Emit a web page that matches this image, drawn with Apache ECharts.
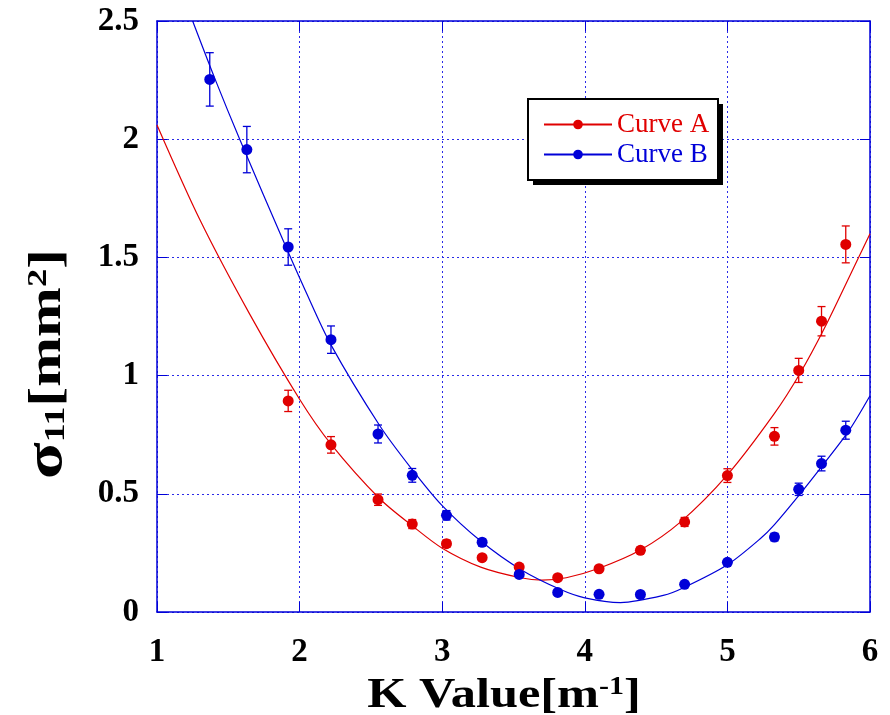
<!DOCTYPE html>
<html>
<head>
<meta charset="utf-8">
<script src="https://cdn.jsdelivr.net/npm/echarts@6/dist/echarts.min.js"></script>
<style>
html, body { margin: 0; padding: 0; background: #fff; }
#chart { width: 890px; height: 715px; }
</style>
</head>
<body>
<div id="chart"></div>
<script>
// axis ticks
const kTicks = [1, 2, 3, 4, 5, 6];
const sigmaTicks = [0, 0.5, 1, 1.5, 2, 2.5];

// Curve A (red) measured points + error
const kA = [1.92, 2.22, 2.55, 2.79, 3.03, 3.28, 3.54, 3.81, 4.10, 4.39, 4.70, 5.00, 5.33, 5.50, 5.66, 5.83];
const sigmaA = [0.893, 0.707, 0.475, 0.372, 0.289, 0.230, 0.190, 0.145, 0.183, 0.261, 0.381, 0.577, 0.743, 1.022, 1.230, 1.555];
const errA = [0.045, 0.035, 0.024, 0.019, 0.015, 0.012, 0.010, 0.007, 0.009, 0.013, 0.019, 0.029, 0.037, 0.051, 0.062, 0.078];

// Curve B (blue) measured points + error
const kB = [1.37, 1.63, 1.92, 2.22, 2.55, 2.79, 3.03, 3.28, 3.54, 3.81, 4.10, 4.39, 4.70, 5.00, 5.33, 5.50, 5.66, 5.83];
const sigmaB = [2.253, 1.956, 1.544, 1.152, 0.753, 0.578, 0.409, 0.295, 0.159, 0.083, 0.075, 0.074, 0.117, 0.210, 0.317, 0.519, 0.628, 0.769];
const errB = [0.113, 0.098, 0.077, 0.058, 0.038, 0.029, 0.020, 0.015, 0.008, 0.004, 0.004, 0.004, 0.006, 0.010, 0.016, 0.026, 0.031, 0.038];

// fitted curves
const fitKA = [1.0, 1.3, 1.65, 2.0, 2.22, 2.56, 2.8, 3.0, 3.27, 3.55, 3.7, 3.87, 4.1, 4.39, 4.67, 5.0, 5.33, 5.51, 5.68, 5.92, 6.0];
const fitA = [2.06, 1.66, 1.26, 0.90, 0.71, 0.48, 0.36, 0.27, 0.19, 0.145, 0.135, 0.145, 0.185, 0.262, 0.38, 0.58, 0.84, 1.01, 1.20, 1.50, 1.60];
const fitKB = [1.25, 1.41, 1.58, 1.9, 2.04, 2.22, 2.56, 2.78, 3.0, 3.27, 3.55, 3.83, 4.0, 4.25, 4.55, 4.7, 5.0, 5.23, 5.33, 5.51, 5.68, 5.85, 6.0];
const fitB = [2.5, 2.25, 2.0, 1.55, 1.36, 1.13, 0.79, 0.61, 0.45, 0.30, 0.18, 0.095, 0.06, 0.04, 0.07, 0.105, 0.20, 0.31, 0.37, 0.50, 0.63, 0.765, 0.915];

const RED = '#e00000';
const BLUE = '#0000d8';
const GRIDBLUE = '#2a2ae8';
const serif = 'Liberation Serif';

function pairs(xs, ys) {
    return xs.map((x, i) => [x, ys[i]]);
}
function errRows(xs, ys, es) {
    return xs.map((x, i) => [x, ys[i] - es[i], ys[i] + es[i]]);
}

// error bar with small caps
function errorBar(params, api) {
    const x = api.value(0);
    const lo = api.coord([x, api.value(1)]);
    const hi = api.coord([x, api.value(2)]);
    const w = 4;
    const style = { stroke: api.visual('color'), lineWidth: 1.3 };
    return {
        type: 'group',
        children: [
            { type: 'line', shape: { x1: lo[0], y1: lo[1], x2: hi[0], y2: hi[1] }, style: style },
            { type: 'line', shape: { x1: hi[0] - w, y1: hi[1], x2: hi[0] + w, y2: hi[1] }, style: style },
            { type: 'line', shape: { x1: lo[0] - w, y1: lo[1], x2: lo[0] + w, y2: lo[1] }, style: style }
        ]
    };
}

const frameAxis = {
    axisLine: { show: true, onZero: false, lineStyle: { color: BLUE, width: 1.5 } },
    axisTick: { show: true, inside: true, length: 10, lineStyle: { color: BLUE, width: 1 } }
};

const titleBold = { fontFamily: serif, fontWeight: 'bold', fill: '#000' };

let myChart = echarts.init(document.getElementById('chart'));
const option = {
    animation: false,
    backgroundColor: '#fff',
    grid: { left: 157, right: 20, top: 21, bottom: 103 },
    graphic: [
        // legend frame with hard drop shadow
        { type: 'rect', z: 3, shape: { x: 533, y: 104, width: 190, height: 81 }, style: { fill: '#000' } },
        { type: 'rect', z: 3, shape: { x: 528, y: 99, width: 190, height: 81 }, style: { fill: '#fff', stroke: '#000', lineWidth: 2 } },
        // axis titles
        {
            type: 'text', z: 5, x: 504, y: 696, scaleX: 1.2,
            style: {
                text: '{b|K Value[m}{sup|-1}{b|]}',
                align: 'center', verticalAlign: 'middle',
                rich: {
                    b: { ...titleBold, fontSize: 42, lineHeight: 42 },
                    sup: { ...titleBold, fontSize: 25, lineHeight: 25, verticalAlign: 'top' }
                }
            }
        },
        {
            type: 'text', z: 5, x: 48, y: 364, rotation: Math.PI / 2, scaleX: 1.3,
            style: {
                text: '{s|σ}{sub|11}{b|[mm}{sup|2}{b|]}',
                align: 'center', verticalAlign: 'middle',
                rich: {
                    s: { ...titleBold, fontSize: 52, lineHeight: 46 },
                    b: { ...titleBold, fontSize: 46, lineHeight: 46 },
                    sub: { ...titleBold, fontSize: 29, lineHeight: 29, verticalAlign: 'bottom' },
                    sup: { ...titleBold, fontSize: 28, lineHeight: 28, verticalAlign: 'top' }
                }
            }
        }
    ],
    legend: {
        data: [
            { name: 'Curve A', textStyle: { color: RED, fontFamily: serif, fontSize: 27 } },
            { name: 'Curve B', textStyle: { color: BLUE, fontFamily: serif, fontSize: 27 } }
        ],
        orient: 'vertical',
        left: 543,
        top: 111,
        z: 10,
        itemWidth: 68,
        itemHeight: 12,
        itemGap: 3,
        padding: 0,
        selectedMode: false,
        textStyle: { fontFamily: serif, fontSize: 27 }
    },
    xAxis: [{
        type: 'value',
        min: kTicks[0],
        max: kTicks[kTicks.length - 1],
        interval: 1,
        ...frameAxis,
        axisLabel: { margin: 24, fontFamily: serif, fontWeight: 'bold', fontSize: 33, color: '#000' },
        splitLine: { show: true, lineStyle: { color: GRIDBLUE, type: [2, 3], width: 1 } }
    }, {
        type: 'value',
        position: 'top',
        min: kTicks[0],
        max: kTicks[kTicks.length - 1],
        interval: 1,
        ...frameAxis,
        axisLabel: { show: false },
        splitLine: { show: false }
    }],
    yAxis: [{
        type: 'value',
        min: sigmaTicks[0],
        max: sigmaTicks[sigmaTicks.length - 1],
        interval: 0.5,
        ...frameAxis,
        axisLabel: { margin: 18, fontFamily: serif, fontWeight: 'bold', fontSize: 33, color: '#000' },
        splitLine: { show: true, lineStyle: { color: GRIDBLUE, type: [2, 3], width: 1 } }
    }, {
        type: 'value',
        position: 'right',
        min: sigmaTicks[0],
        max: sigmaTicks[sigmaTicks.length - 1],
        interval: 0.5,
        ...frameAxis,
        axisLabel: { show: false },
        splitLine: { show: false }
    }],
    series: [
        {
            name: 'Curve A',
            type: 'line',
            data: pairs(fitKA, fitA),
            smooth: 0.3,
            symbol: 'circle',
            showSymbol: false,
            color: RED,
            lineStyle: { color: RED, width: 1.2 },
            z: 2
        },
        {
            name: 'Curve B',
            type: 'line',
            data: pairs(fitKB, fitB),
            smooth: 0.3,
            symbol: 'circle',
            showSymbol: false,
            color: BLUE,
            lineStyle: { color: BLUE, width: 1.2 },
            z: 2
        },
        {
            name: 'errA',
            type: 'custom',
            renderItem: errorBar,
            itemStyle: { color: RED },
            data: errRows(kA, sigmaA, errA),
            z: 3
        },
        {
            name: 'errB',
            type: 'custom',
            renderItem: errorBar,
            itemStyle: { color: BLUE },
            data: errRows(kB, sigmaB, errB),
            z: 3
        },
        {
            name: 'pointsA',
            type: 'scatter',
            data: pairs(kA, sigmaA),
            symbol: 'circle',
            symbolSize: 11,
            itemStyle: { color: RED, opacity: 1 },
            z: 4
        },
        {
            name: 'pointsB',
            type: 'scatter',
            data: pairs(kB, sigmaB),
            symbol: 'circle',
            symbolSize: 11,
            itemStyle: { color: BLUE, opacity: 1 },
            z: 4
        }
    ]
};
myChart.setOption(option);
</script>
</body>
</html>
